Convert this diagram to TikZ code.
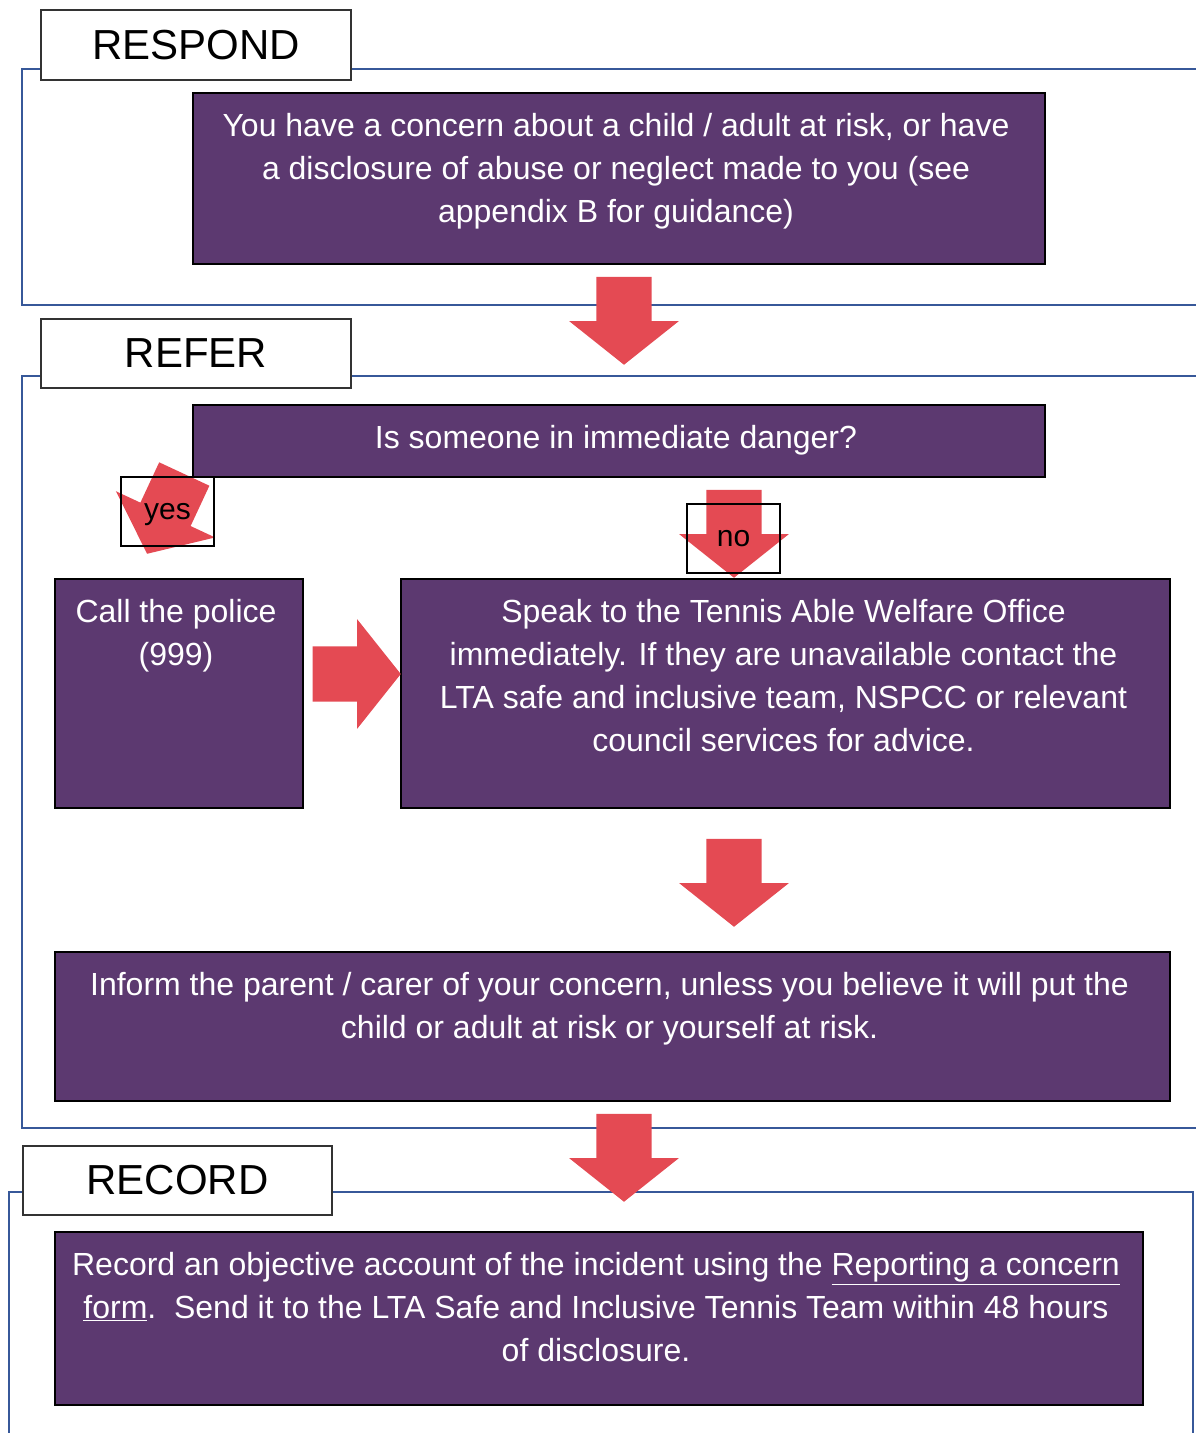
\documentclass[tikz,border=0pt]{standalone}
\usepackage{fontspec}
\setmainfont{Liberation Sans}
\usepackage{xcolor}
\usepackage{tikz}
\usetikzlibrary{shapes.arrows}
\usetikzlibrary{positioning}

\definecolor{morado}{RGB}{92,57,112}
\definecolor{rojo}{RGB}{228,74,83}
\definecolor{azul}{RGB}{55,88,153}

\begin{document}
\begin{tikzpicture}[x=1pt, y=-1pt]
      % Estilos
      \tikzstyle{caja}=[
        rectangle,
        fill=morado,
        draw=black,
        line width=1.2pt,
        inner sep=0pt
      ]
      % texto blanco dentro de las cajas, pegado arriba
      \tikzstyle{texto}=[
        text=white,
        align=center,
        inner sep=0pt,
        font=\fontsize{32}{43}\selectfont
      ]
      % titulo de cada bloque
      \tikzstyle{etiqueta}=[
        rectangle,
        fill=white,
        draw=black!80,
        line width=1.2pt,
        font=\fontsize{42}{50}\selectfont
      ]
      \tikzstyle{marco}=[draw=azul, line width=2.8pt]
      % flecha gruesa roja
      \tikzstyle{flecha}=[
        single arrow,
        fill=rojo,
        inner xsep=0pt,
        inner ysep=27.5pt,
        minimum height=88pt,
        minimum width=109pt,
        single arrow head extend=27pt,
        single arrow tip angle=103,
        anchor=tip
      ]
      \tikzstyle{respuesta}=[
        rectangle,
        draw=black,
        line width=1.2pt,
        minimum width=93pt,
        minimum height=69pt,
        text height=20pt,
        text depth=4pt,
        font=\fontsize{30}{36}\selectfont
      ]

      \useasboundingbox (0,0) rectangle (1196,1433);

      % marcos de los bloques
      \draw[marco] (1196,69) -- (22,69) -- (22,305) -- (1196,305);
      \draw[marco] (1196,376) -- (22,376) -- (22,1128) -- (1196,1128);
      \draw[marco] (9,1440) -- (9,1192) -- (1193,1192) -- (1193,1440);

      % titulos
      \node[etiqueta, minimum width=310pt, minimum height=70pt] (respond) at (196,45) {RESPOND};
      \node[etiqueta, minimum width=310pt, minimum height=69pt] (refer) at (196,353.5) {REFER};
      \node[etiqueta, minimum width=309pt, minimum height=69pt] (record) at (177.5,1180.5) {RECORD};

      % RESPOND
      \node[caja, minimum width=852pt, minimum height=171pt,
        label={[texto, anchor=north, yshift=-21pt, xshift=-3pt]north:{You have a concern about a child / adult at risk, or have\\a disclosure of abuse or neglect made to you (see\\appendix B for guidance)}}] (concern) at (619,178.5) {};

      % REFER
      \node[caja, minimum width=852pt, minimum height=72pt,
        label={[texto, anchor=north, yshift=-21pt, xshift=-3pt]north:{Is someone in immediate danger?}}] (danger) at (619,441) {};
      \node[caja, minimum width=248pt, minimum height=229pt,
        label={[texto, anchor=north, yshift=-21pt, xshift=-3pt]north:{Call the police\\(999)}}] (police) at (179,693.5) {};
      \node[caja, minimum width=769pt, minimum height=229pt,
        label={[texto, anchor=north, yshift=-21pt, xshift=-2pt]north:{Speak to the Tennis Able Welfare Office\\immediately. If they are unavailable contact the\\LTA safe and inclusive team, NSPCC or relevant\\council services for advice.}}] (welfare) at (785.5,693.5) {};
      \node[caja, minimum width=1115pt, minimum height=149pt,
        label={[texto, anchor=north, yshift=-21pt, xshift=-3pt]north:{Inform the parent / carer of your concern, unless you believe it will put the\\child or adult at risk or yourself at risk.}}] (inform) at (612.5,1026.5) {};

      % RECORD
      \node[caja, minimum width=1088pt, minimum height=173pt,
        label={[texto, anchor=north, yshift=-21pt, xshift=-3pt]north:{Record an objective account of the incident using the \underline{Reporting a concern}\\\underline{form}.\ \ Send it to the LTA Safe and Inclusive Tennis Team within 48 hours\\of disclosure.}}] (report) at (599,1318.5) {};

      % flechas
      \node[flecha, rotate=-90] (a1) at (624,365) {};
      \node[flecha, rotate=245] (ayes) at (147,554) {};
      \node[flecha, rotate=-90] (ano) at (734,578) {};
      \node[flecha] (aright) at (401,674) {};
      \node[flecha, rotate=-90] (a3) at (734,927) {};
      \node[flecha, rotate=-90] (a4) at (624,1202) {};

      % si / no
      \node[respuesta] (yes) at (167.5,511.5) {yes};
      \node[respuesta] (no) at (733.5,538.5) {no};
\end{tikzpicture}
\end{document}
